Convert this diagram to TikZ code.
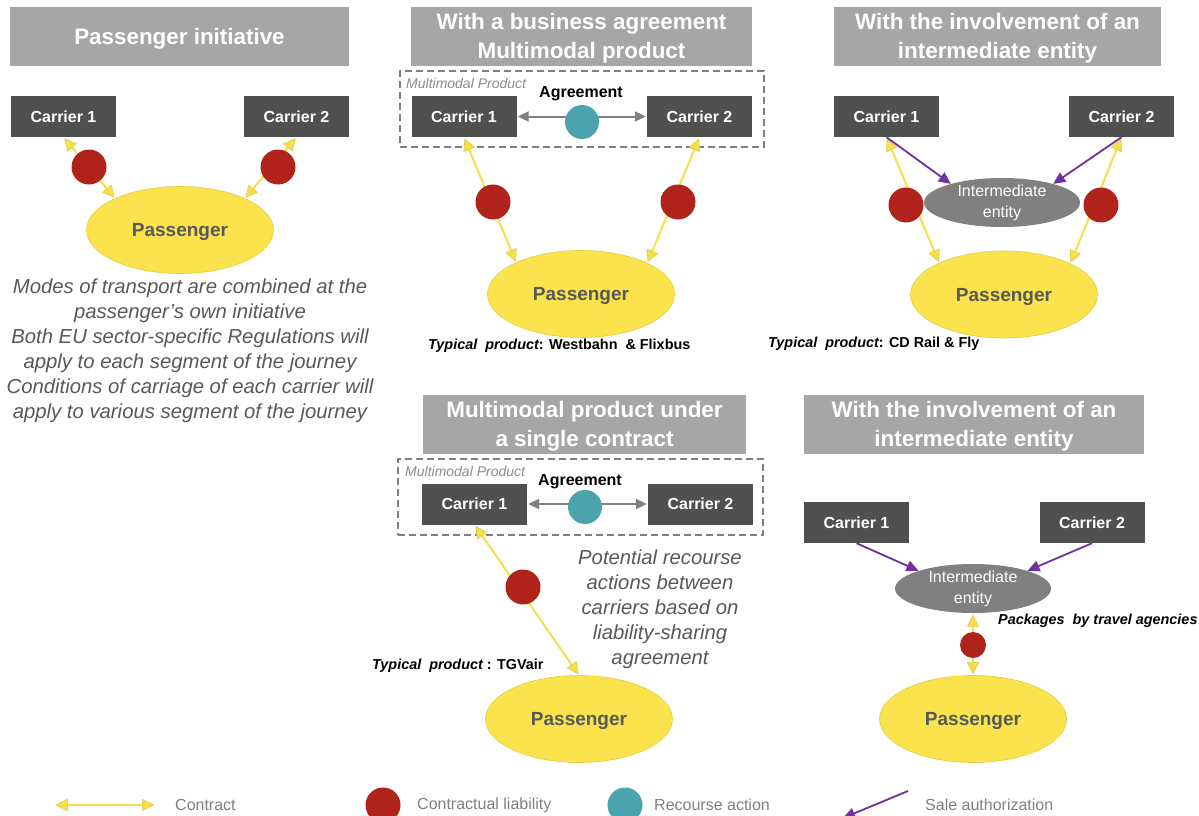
\documentclass[tikz,border=0pt]{standalone}
\usepackage{fontspec}
\setmainfont{Liberation Sans}
\usetikzlibrary{shapes.geometric,arrows.meta}
\definecolor{headc}{HTML}{A6A6A6}
\definecolor{carc}{HTML}{505050}
\definecolor{passc}{HTML}{FAE34C}
\definecolor{passd}{HTML}{E3CC3A}
\definecolor{txtc}{HTML}{595959}
\definecolor{entc}{HTML}{808080}
\definecolor{liabc}{HTML}{B0231A}
\definecolor{recc}{HTML}{4BA3AD}
\definecolor{contc}{HTML}{F5E04A}
\definecolor{contd}{HTML}{DCC63A}
\definecolor{salec}{HTML}{7030A0}
\definecolor{agrc}{HTML}{808080}
\definecolor{legc}{HTML}{808080}
\definecolor{mmc}{HTML}{8C8C8C}
\begin{document}
\begin{tikzpicture}[x=1pt,y=-1pt,
  header/.style={fill=headc, minimum height=59pt, inner sep=0pt},
  headtext/.style={text=white, font=\fontsize{22.4}{29}\selectfont\bfseries, align=center, inner sep=0pt, yshift=-2pt},
  carrier/.style={fill=carc, text=white, font=\fontsize{16}{19}\selectfont\bfseries, minimum width=105pt, minimum height=41pt, inner sep=0pt},
  pass/.style={ellipse, fill=passc, draw=passd, line width=0.6pt, minimum width=187pt, minimum height=87pt, inner sep=0pt, text depth=0pt, font=\fontsize{19}{22}\selectfont\bfseries, text=txtc},
  ient/.style={ellipse, fill=entc, minimum width=156pt, minimum height=49pt, inner sep=0pt},
  ienttext/.style={text=white, font=\fontsize{16}{21}\selectfont, align=center, inner sep=0pt},
  liab/.style={circle, fill=liabc, minimum size=35pt, inner sep=0pt},
  rec/.style={circle, fill=recc, minimum size=34pt, inner sep=0pt},
  contract/.style={draw=contc, line width=2pt, shorten <=1.5pt, shorten >=1pt, {Triangle[width=12pt,length=12pt,fill=contc,color=contd,line width=0.5pt]}-{Triangle[width=12pt,length=12pt,fill=contc,color=contd,line width=0.5pt]}},
  sale/.style={draw=salec, line width=1.8pt, -{Triangle[width=11pt,length=12pt]}},
  agree/.style={draw=agrc, line width=2pt, shorten <=1pt, shorten >=1pt, {Triangle[width=10pt,length=11pt]}-{Triangle[width=10pt,length=11pt]}},
  dashbox/.style={draw=agrc, line width=1.5pt, dash pattern=on 7pt off 4pt, inner sep=0pt},
  mmlabel/.style={text=mmc, font=\fontsize{14}{16}\selectfont\itshape, inner sep=0pt},
  agtext/.style={text=black, font=\fontsize{16}{19}\selectfont\bfseries, inner sep=0pt},
  desc/.style={text=txtc, font=\fontsize{20.3}{25}\selectfont\itshape, align=center, inner sep=0pt},
  typ/.style={text=black, font=\fontsize{14.4}{17}\selectfont\bfseries, inner sep=0pt},
  legtext/.style={text=legc, font=\fontsize{16}{19}\selectfont, inner sep=0pt}
]
\useasboundingbox (0,0) rectangle (1199,816);
\fill[white] (0,0) rectangle (1199,816);

% ---------- Panel 1 ----------
\node[header, minimum width=339pt, label={[headtext]center:{Passenger initiative}}] (h1) at (179.5,36.5) {};
\node[carrier] (a1) at (63.5,116.5) {Carrier 1};
\node[carrier] (a2) at (296.5,116.5) {Carrier 2};
\node[pass] (ap) at (180,230) {Passenger};
\draw[contract] (a1.south) -- (ap.154);
\draw[contract] (a2.south) -- (ap.26);
\node[liab] (al1) at (89,167) {};
\node[liab] (al2) at (278,167) {};
\node[desc] (ad) at (190,350.5) {Modes of transport are combined at the\\passenger’s own initiative\\Both EU sector-specific Regulations will\\apply to each segment of the journey\\Conditions of carriage of each carrier will\\apply to various segment of the journey};

% ---------- Panel 2 ----------
\node[header, minimum width=341pt, label={[headtext]center:{With a business agreement\\Multimodal product}}] (h2) at (581.5,36.5) {};
\node[dashbox, minimum width=364pt, minimum height=76pt] (bm) at (582,109) {};
\node[mmlabel, anchor=west] (bml) at (406,83) {Multimodal Product};
\node[carrier] (b1) at (464,116.5) {Carrier 1};
\node[carrier] (b2) at (699.5,116.5) {Carrier 2};
\node[agtext] (bag) at (581,93.5) {Agreement};
\draw[agree] (b1.east) -- (b2.west);
\node[rec] (br) at (582,122) {};
\node[pass] (bp) at (581,294) {Passenger};
\draw[contract] (b1.south) -- (bp.154);
\draw[contract] (b2.south) -- (bp.25);
\node[liab] (bl1) at (493,202) {};
\node[liab] (bl2) at (678,202) {};
\node[typ, anchor=west] (bt) at (428,346) {{\itshape Typical\ \ product}: Westbahn\ \ \& Flixbus};

% ---------- Panel 3 ----------
\node[header, minimum width=327pt, label={[headtext]center:{With the involvement of an\\intermediate entity}}] (h3) at (997.5,36.5) {};
\node[carrier] (c1) at (886.5,116.5) {Carrier 1};
\node[carrier] (c2) at (1121.5,116.5) {Carrier 2};
\node[ient, label={[ienttext]center:{Intermediate\\entity}}] (ce) at (1002,202.5) {};
\node[pass] (cp) at (1004,294.5) {Passenger};
\draw[contract] (c1.south) -- (cp.154);
\draw[contract] (c2.south) -- (cp.25);
\draw[sale] (c1.south) -- (ce.160);
\draw[sale] (c2.south) -- (ce.20);
\node[liab] (cl1) at (906,205) {};
\node[liab] (cl2) at (1101,205) {};
\node[typ, anchor=west] (ct) at (768,344) {{\itshape Typical\ \ product}: CD Rail \& Fly};

% ---------- Panel 4 ----------
\node[header, minimum width=323pt, label={[headtext]center:{Multimodal product under\\a single contract}}] (h4) at (584.5,424.5) {};
\node[dashbox, minimum width=365pt, minimum height=76pt] (dm) at (580.5,497) {};
\node[mmlabel, anchor=west] (dml) at (405,471) {Multimodal Product};
\node[carrier] (d1) at (474.5,504) {Carrier 1};
\node[carrier] (d2) at (700.5,504) {Carrier 2};
\node[agtext] (dag) at (580,481.5) {Agreement};
\draw[agree] (d1.east) -- (d2.west);
\node[rec] (dr) at (585,507) {};
\node[pass] (dp) at (579,719) {Passenger};
\draw[contract] (d1.south) -- (dp.north);
\node[liab] (dl) at (523,587) {};
\node[desc] (dd) at (660,609.5) {Potential recourse\\actions between\\carriers based on\\liability-sharing\\agreement};
\node[typ, anchor=west] (dt) at (372,666) {{\itshape Typical\ \ product} : TGVair};

% ---------- Panel 5 ----------
\node[header, minimum width=340pt, label={[headtext]center:{With the involvement of an\\intermediate entity}}] (h5) at (974,424.5) {};
\node[carrier] (e1) at (856.5,522.5) {Carrier 1};
\node[carrier] (e2) at (1092,522.5) {Carrier 2};
\node[ient, label={[ienttext]center:{Intermediate\\entity}}] (ee) at (973,588.5) {};
\node[pass] (ep) at (973,719) {Passenger};
\draw[sale] (e1.south) -- (ee.162);
\draw[sale] (e2.south) -- (ee.18);
\draw[contract] (ee.south) -- (ep.north);
\node[liab, minimum size=26pt] (el) at (973,645) {};
\node[typ, anchor=west, font=\fontsize{14.4}{17}\selectfont\bfseries\itshape] (et) at (998,621) {Packages\ \ by travel agencies};

% ---------- Legend ----------
\coordinate (k1) at (54,805);
\coordinate (k2) at (155,805);
\draw[contract] (k1) -- (k2);
\node[legtext, anchor=west] (kt1) at (175,805) {Contract};
\node[liab] (kl) at (383,805) {};
\node[legtext, anchor=west] (kt2) at (417,805) {Contractual liability};
\node[rec, minimum size=35pt] (kr) at (625,805) {};
\node[legtext, anchor=west] (kt3) at (654,805) {Recourse action};
\coordinate (s1) at (908,791);
\coordinate (s2) at (843,818);
\draw[sale] (s1) -- (s2);
\node[legtext, anchor=west] (kt4) at (925,805) {Sale authorization};
\end{tikzpicture}
\end{document}
